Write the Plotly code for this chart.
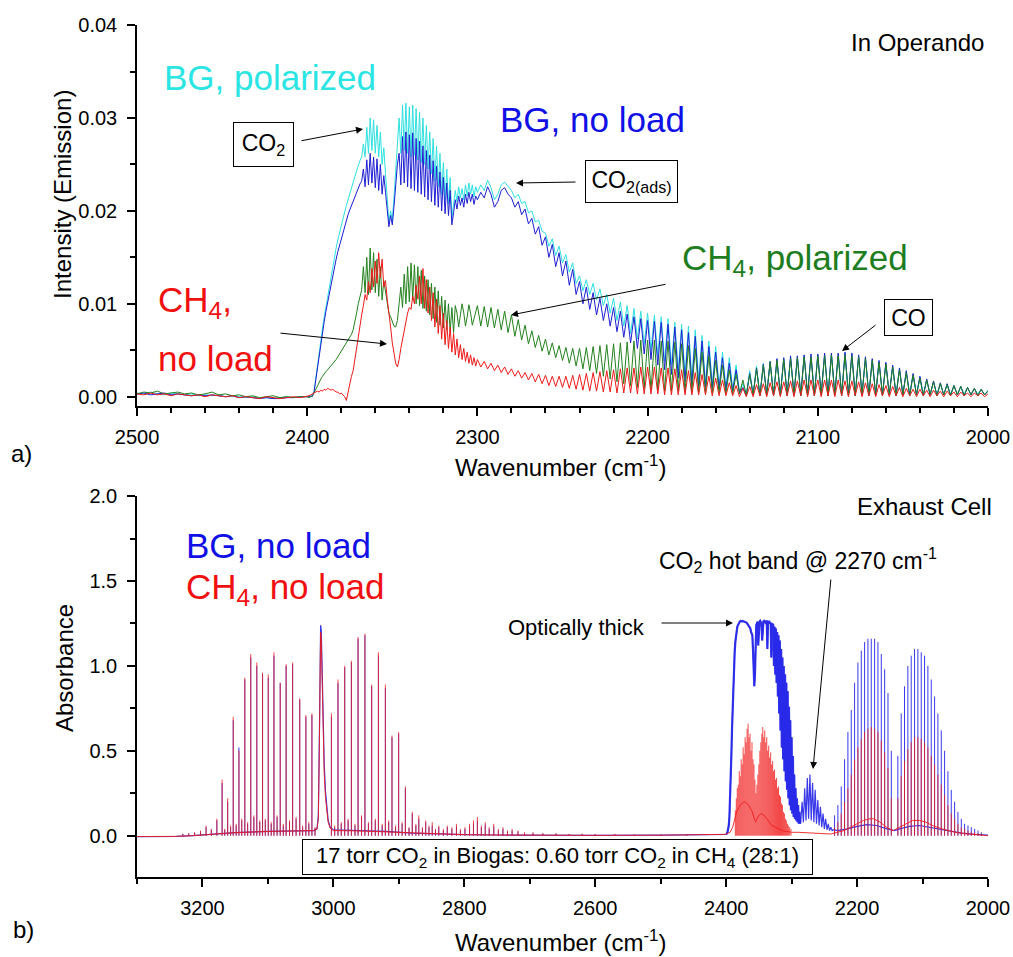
import numpy as np
import plotly.graph_objects as go

W, H = 1013, 957
FONT = "Liberation Sans, Arial, sans-serif"

# ================= Panel a) In Operando emission =================
# wavenumber sampling (cm^-1)
wn_a0 = np.arange(2500, 2403, -4)   # 25
wn_a1 = np.arange(2400, 2300, -1)   # 100
wn_a2 = np.arange(2300, 1999, -2)   # 151

# intensities in units of 1e-4
bg_pol_0 = [4,3,5,3,2,4,3,2,3,1, 2,1,2,0,1,0,-1,0,-2,-1, -2,-1,0,-1,0]
bg_pol_1 = [
 0,-1,0,1,5,20,35,48,62,74,
 86,97,108,119,130,141,151,160,169,177,
 185,192,199,206,212,219,225,231,237,243,
 249,254,258,272,258,290,262,300,265,298,
 262,292,258,285,250,268,240,215,188,200,
 190,215,245,275,300,262,314,265,316,262,
 312,258,314,260,310,255,306,252,300,250,
 292,245,285,240,278,232,270,226,262,218,
 252,212,245,208,236,192,205,222,210,226,
 214,224,212,228,216,230,218,228,215,226]
bg_pol_2 = [
 220,228,222,233,225,212,218,228,231,226,
 222,214,218,208,210,198,200,188,190,178,
 176,162,170,152,162,144,153,134,144,122,
 130,114,126,110,122,104,116,98,110,90,
 106,82,102,76,98,68,95,62,92,56,
 90,50,88,44,86,38,84,34,80,28,
 78,24,76,20,72,18,66,15,60,13,
 54,11,48,10,42,8,34,5,14,2,
 28,3,33,2,36,3,38,3,40,2,
 41,3,42,2,43,3,44,2,44,3,
 45,2,45,3,46,2,45,3,47,2,
 46,3,44,2,42,3,40,2,38,3,
 36,2,33,3,30,2,27,3,24,2,
 21,3,18,2,16,3,14,2,13,3,
 12,2,11,3,10,2,9,3,8,2,
 7]

bg_nl_0 = [3,4,2,3,4,2,3,2,1,2, 1,2,1,0,1,-1,0,-1,-2,-1, -2,-2,-1,-1,0]
bg_nl_1 = [
 0,0,1,0,5,18,33,46,58,70,
 81,92,102,112,122,131,140,148,156,163,
 170,177,184,190,196,201,206,211,216,220,
 224,229,232,245,226,255,228,262,230,258,
 225,256,222,250,218,238,220,200,183,195,
 185,205,230,250,262,228,280,230,285,226,
 282,224,284,222,278,220,275,218,270,215,
 265,212,260,210,254,206,248,204,242,200,
 236,197,230,195,222,185,198,212,202,216,
 206,214,204,218,208,220,210,218,207,216]
bg_nl_2 = [
 212,220,214,226,218,204,210,222,225,218,
 214,204,210,196,202,186,192,175,183,163,
 172,150,164,140,155,130,146,120,137,110,
 124,100,118,94,112,88,106,82,100,76,
 96,70,92,64,89,58,86,52,84,46,
 82,40,81,34,80,29,78,24,75,20,
 72,16,69,13,65,11,60,10,54,9,
 48,8,42,7,36,6,29,4,10,1,
 25,2,31,1,35,2,38,1,41,2,
 42,1,44,2,44,1,45,2,46,1,
 46,2,47,1,47,2,47,1,48,2,
 47,1,45,2,43,1,41,2,39,1,
 37,2,34,1,31,2,28,1,25,2,
 22,1,19,2,17,1,15,2,14,1,
 12,2,11,1,10,2,9,1,8,2,
 6]

ch4_pol_0 = [3,5,4,6,3,4,5,3,4,2, 3,5,2,3,1,2,0,1,-1,0, 1,-1,0,-1,0]
ch4_pol_1 = [
 0,-1,0,1,4,8,12,15,19,22,
 25,27,29,31,33,35,37,40,43,46,
 49,53,56,58,61,64,67,72,80,90,
 100,108,115,140,112,150,110,160,115,155,
 112,148,108,140,104,125,112,98,90,86,
 80,76,75,82,100,118,96,132,100,140,
 102,144,104,142,100,140,98,136,95,130,
 92,126,88,122,84,118,80,114,77,108,
 74,104,72,100,70,96,69,98,90,75,
 88,100,90,76,86,99,90,77,84,92]
ch4_pol_2 = [
 98,76,97,75,96,74,94,72,92,69,
 88,65,83,61,77,57,71,53,66,49,
 62,45,58,42,55,39,53,36,52,33,
 52,30,53,28,54,25,55,22,56,19,
 57,16,58,14,59,12,60,10,61,9,
 61,7,61,7,60,6,60,6,59,6,
 57,5,55,5,52,5,48,4,44,4,
 39,4,34,3,29,3,24,3,18,2,
 24,2,30,1,34,2,37,1,39,2,
 40,1,41,2,42,1,43,2,43,1,
 44,2,44,1,45,2,44,1,45,2,
 44,1,43,2,41,1,39,2,37,1,
 35,2,32,1,29,2,26,1,23,2,
 20,1,18,2,16,1,14,2,13,1,
 12,2,11,1,10,2,9,1,8,2,
 6]

ch4_nl_0 = [3,2,4,2,3,1,3,2,1,2, 0,2,1,0,1,-1,0,-1,-2,0, -1,-2,-1,0,-1]
ch4_nl_1 = [
 0,1,2,3,4,5,6,5,7,6,
 8,7,9,8,7,8,6,5,5,3,
 4,2,0,-4,5,15,22,28,40,55,
 68,80,88,98,110,104,124,112,138,118,
 146,122,155,128,148,118,125,105,92,75,
 58,45,36,32,40,52,62,74,82,90,
 96,94,108,100,120,105,130,100,138,95,
 126,90,118,82,112,75,105,68,98,62,
 90,56,82,52,75,48,68,45,62,42,
 56,40,52,38,48,36,45,34,42,33]
ch4_nl_2 = [
 40,32,38,30,36,28,34,26,32,24,
 30,22,28,20,26,18,25,16,24,14,
 23,12,22,11,22,10,22,9,23,8,
 24,7,25,6,26,6,27,5,28,5,
 29,4,30,4,31,4,31,3,32,3,
 32,3,32,3,31,2,31,2,30,2,
 29,2,28,2,26,2,24,2,22,1,
 20,1,18,1,15,1,12,0,9,0,
 11,0,13,1,14,0,15,1,16,0,
 16,1,17,0,17,1,18,0,18,1,
 18,0,18,1,18,0,18,1,17,0,
 17,1,16,0,15,1,14,0,13,1,
 12,0,11,1,10,0,9,1,8,0,
 8,1,7,0,7,1,6,0,6,1,
 5,0,5,1,4,0,4,1,4,0,
 3]

for s in (bg_pol_0, bg_nl_0, ch4_pol_0, ch4_nl_0):
    assert len(s) == len(wn_a0)
for s in (bg_pol_1, bg_nl_1, ch4_pol_1, ch4_nl_1):
    assert len(s) == len(wn_a1), len(s)
for s in (bg_pol_2, bg_nl_2, ch4_pol_2, ch4_nl_2):
    assert len(s) == len(wn_a2), len(s)

wn_a = np.concatenate([wn_a0, wn_a1, wn_a2])
def top_series(a, b, c):
    return np.array(a + b + c, dtype=float) * 1e-4

# ================= Panel b) Exhaust cell absorbance =================
# broad continuum (baseline + CH4 Q-branch)
bg_cont_wn = [3300, 3270, 3240, 3215, 3195, 3175, 3150, 3100, 3050, 3030, 3025, 3023,
              3021.5, 3020.5, 3019.5, 3018.5, 3017.5, 3016.5, 3015.5, 3014, 3012, 3010,
              3008, 3005, 3000, 2960, 2920, 2880, 2850, 2800, 2750, 2700, 2600, 2500,
              2420, 2401]
bg_cont_a = [-0.005, -0.006, -0.004, 0.0, 0.005, 0.01, 0.018, 0.025, 0.028, 0.03, 0.04, 0.12,
             0.55, 1.1, 1.24, 1.21, 1.05, 0.8, 0.6, 0.42, 0.26, 0.15,
             0.09, 0.05, 0.035, 0.03, 0.025, 0.015, 0.01, 0.006, 0.004, 0.002, 0.002, 0.003,
             0.004, 0.008]
ch4_cont_a = [-0.005, -0.006, -0.004, 0.0, 0.005, 0.01, 0.018, 0.025, 0.028, 0.03, 0.04, 0.1,
              0.5, 1.05, 1.2, 1.16, 0.98, 0.72, 0.52, 0.36, 0.22, 0.13,
              0.08, 0.045, 0.03, 0.028, 0.022, 0.014, 0.01, 0.006, 0.004, 0.002, 0.002, 0.003,
              0.004, 0.008]

# BG: saturated CO2 band (1 cm^-1 sampling, 2400 -> 2287)
bg_band_wn = np.arange(2400, 2286, -1)
bg_band_a = [
 0.01,0.012,0.02,0.035,0.06,0.11,0.2,0.32,0.48,0.63,0.78,0.9,1.0,1.08,1.14,1.18,1.21,1.23,1.24,1.25,
 1.26,1.262,1.265,1.26,1.262,1.265,1.26,1.262,1.26,1.258,
 1.26,1.255,1.25,1.245,1.24,1.235,1.23,1.22,1.2,1.19,
 1.18,1.1,0.95,0.88,0.95,1.15,1.24,1.25,1.26,1.12,
 1.25,1.26,1.265,1.26,1.25,1.15,1.26,1.262,1.265,1.26,
 1.255,1.262,1.265,1.1,1.26,1.258,1.26,1.25,1.255,1.05,
 1.25,1.245,1.24,1.0,1.23,0.95,1.22,0.9,1.2,0.82,
 1.18,0.72,1.15,0.62,1.1,0.52,1.05,0.45,1.0,0.38,
 0.95,0.32,0.9,0.27,0.85,0.22,0.76,0.18,0.68,0.15,
 0.58,0.13,0.47,0.11,0.36,0.1,0.28,0.09,0.22,0.08,
 0.18,0.07,0.14,0.07]
assert len(bg_band_a) == len(bg_band_wn), len(bg_band_a)
# BG: CO2 hot band near 2270 cm^-1
bg_hot_wn = np.arange(2286, 2235, -2)
bg_hot_a = [0.08,0.2,0.08,0.28,0.09,0.34,0.1,0.36,0.09,0.31,0.08,0.27,0.07,0.21,0.06,0.17,
            0.05,0.13,0.04,0.1,0.035,0.07,0.03,0.05,0.03,0.035]
assert len(bg_hot_a) == len(bg_hot_wn)
# BG: pedestal under CO lines
bg_ped_wn = [2230, 2215, 2200, 2185, 2170, 2158, 2148, 2143, 2135, 2120, 2105, 2090, 2075, 2060, 2040, 2020, 2000]
bg_ped_a = [0.03, 0.04, 0.055, 0.065, 0.06, 0.045, 0.035, 0.03, 0.04, 0.055, 0.06, 0.05, 0.04, 0.03, 0.015, 0.008, 0.004]

# CH4: pedestal under CO2 band and CO lines
ch4_ped_wn = [2400, 2394, 2390, 2387, 2384, 2380, 2376, 2372, 2368, 2364, 2360, 2357, 2355, 2353, 2350,
              2346, 2342, 2338, 2334, 2330, 2325, 2320, 2315, 2308, 2300, 2290, 2270, 2240, 2220, 2200,
              2190, 2180, 2175, 2165, 2155, 2145, 2135, 2125, 2115, 2105, 2095, 2085, 2070, 2050, 2030, 2000]
ch4_ped_a = [0.01, 0.02, 0.05, 0.1, 0.14, 0.17, 0.19, 0.2, 0.19, 0.17, 0.14, 0.1, 0.08, 0.1, 0.12,
             0.13, 0.12, 0.1, 0.08, 0.06, 0.05, 0.04, 0.03, 0.025, 0.02, 0.02, 0.015, 0.01, 0.03, 0.07,
             0.09, 0.1, 0.1, 0.08, 0.05, 0.03, 0.05, 0.07, 0.09, 0.09, 0.08, 0.06, 0.04, 0.02, 0.01, 0.0]

# CH4 rotational lines (R, P branches)
ch4_line_wn = [3230, 3221, 3212, 3203, 3194.5, 3186.5, 3178, 3170, 3161.5, 3153,
               3144.3, 3135.3, 3126.2, 3117, 3108.2, 3099.5, 3090.8, 3081.2, 3072.2, 3062.3,
               3051.4, 3042, 3032.8, 3003, 2993, 2982.7, 2972.5, 2962.3, 2951.8, 2941.5,
               2931.2, 2920.6, 2910.5, 2900.3, 2890, 2879.5, 2869.5, 2859, 2849, 2839]
ch4_line_red = [0.012, 0.015, 0.02, 0.03, 0.06, 0.04, 0.10, 0.33, 0.22, 0.70,
                0.50, 0.93, 1.07, 1.02, 0.96, 0.95, 1.08, 0.90, 1.01, 1.02,
                0.81, 0.71, 0.72, 0.72, 0.92, 1.00, 1.03, 1.17, 1.19, 0.89,
                1.08, 0.89, 0.59, 0.61, 0.29, 0.14, 0.12, 0.09, 0.08, 0.06]
ch4_line_blue = [0.01, 0.012, 0.018, 0.025, 0.05, 0.035, 0.09, 0.31, 0.2, 0.68,
                 0.52, 0.92, 1.05, 1.0, 0.95, 0.93, 1.06, 0.9, 1.0, 1.01,
                 0.8, 0.7, 0.71, 0.7, 0.9, 0.99, 1.02, 1.16, 1.18, 0.88,
                 1.06, 0.87, 0.58, 0.6, 0.28, 0.13, 0.1, 0.08, 0.06, 0.05]
ch4_weak_wn = [3166, 3157, 3148.5, 3140, 3131, 3121.5, 3112.5, 3104, 3095, 3086, 3076.5, 3067,
               3057, 3047, 3037.5, 3028, 2998, 2988, 2977.5, 2967, 2957, 2946.5, 2936, 2925.5,
               2915.5, 2905, 2895, 2884.5, 2874, 2864, 2854, 2844]
ch4_weak_red = [0.04, 0.06, 0.07, 0.1, 0.08, 0.12, 0.09, 0.1, 0.08, 0.12, 0.07, 0.09,
                0.11, 0.06, 0.08, 0.05, 0.06, 0.08, 0.1, 0.07, 0.12, 0.08, 0.1, 0.07,
                0.09, 0.06, 0.08, 0.05, 0.07, 0.05, 0.06, 0.04]
ch4_weak_blue = [0.035, 0.05, 0.06, 0.09, 0.07, 0.11, 0.08, 0.09, 0.07, 0.11, 0.06, 0.08,
                 0.1, 0.05, 0.07, 0.045, 0.05, 0.07, 0.09, 0.06, 0.11, 0.07, 0.09, 0.06,
                 0.08, 0.05, 0.07, 0.045, 0.06, 0.045, 0.05, 0.035]
tail_wn = [2832, 2826, 2819, 2812, 2806, 2799, 2792, 2786, 2780, 2774, 2768, 2762, 2755, 2748,
           2741, 2734, 2727, 2718, 2708, 2695, 2680, 2660, 2640, 2620, 2600, 2570, 2540, 2500, 2460]
tail_red = [0.04, 0.06, 0.05, 0.07, 0.04, 0.05, 0.07, 0.09, 0.11, 0.06, 0.08, 0.05, 0.07, 0.04,
            0.05, 0.03, 0.04, 0.03, 0.02, 0.02, 0.015, 0.015, 0.01, 0.012, 0.01, 0.01, 0.008, 0.008, 0.006]
tail_blue = [0.03, 0.05, 0.04, 0.055, 0.03, 0.04, 0.055, 0.07, 0.09, 0.05, 0.065, 0.04, 0.055, 0.03,
             0.04, 0.025, 0.03, 0.025, 0.015, 0.015, 0.012, 0.012, 0.008, 0.01, 0.008, 0.008, 0.006, 0.006, 0.005]

# CO2 band lines for CH4 sample
co2_wn = [2386, 2384.5, 2383, 2381.5, 2380, 2378.5, 2377, 2375.5, 2374, 2372.5,
          2371, 2369.5, 2368, 2366.5, 2365, 2363.5, 2362, 2360.5, 2359, 2357.5,
          2356, 2354.5, 2353, 2351.5, 2350, 2348.5, 2347, 2345.5, 2344, 2342.5,
          2341, 2339.5, 2338, 2336.5, 2335, 2333.5, 2332, 2330.5, 2329, 2327.5,
          2326, 2324.5, 2323, 2321.5, 2320, 2318.5, 2317, 2315.5, 2314, 2312.5,
          2311, 2309.5, 2308, 2306.5, 2305, 2303, 2301]
co2_ch4 = [0.15, 0.22, 0.28, 0.3, 0.38, 0.35, 0.45, 0.42, 0.52, 0.48,
           0.58, 0.55, 0.63, 0.66, 0.58, 0.6, 0.5, 0.55, 0.45, 0.42,
           0.33, 0.25, 0.3, 0.36, 0.42, 0.5, 0.55, 0.6, 0.64, 0.58,
           0.62, 0.55, 0.58, 0.5, 0.53, 0.46, 0.49, 0.42, 0.44, 0.38,
           0.39, 0.33, 0.34, 0.28, 0.29, 0.24, 0.23, 0.19, 0.18, 0.14,
           0.13, 0.1, 0.09, 0.07, 0.06, 0.05, 0.04]

# CO rotational lines as resolved in the picture (R branch, then P branch)
co_wn = [2234.4, 2229.3, 2224.2, 2219.1, 2214.0, 2208.9, 2203.8, 2198.7, 2193.6, 2188.5,
         2183.4, 2178.3, 2173.2, 2168.1, 2163.0, 2157.9, 2152.8, 2147.7,
         2137.7, 2132.6, 2127.5, 2122.4, 2117.3, 2112.2, 2107.1, 2102.0, 2096.9, 2091.8,
         2086.7, 2081.6, 2076.5, 2071.4, 2066.3, 2061.2, 2056.1, 2051.0, 2045.9, 2040.8,
         2035.7, 2030.6, 2025.5, 2020.4, 2015.3, 2010.2]
co_bg = [0.12, 0.18, 0.29, 0.45, 0.61, 0.74, 0.9, 1.02, 1.09, 1.14,
         1.16, 1.16, 1.16, 1.14, 1.07, 0.98, 0.84, 0.5,
         0.47, 0.72, 0.88, 1.0, 1.06, 1.1, 1.1, 1.08, 1.06, 1.0,
         0.92, 0.82, 0.72, 0.62, 0.5, 0.38, 0.27, 0.2, 0.14, 0.1,
         0.07, 0.06, 0.05, 0.04, 0.03, 0.02]
co_ch4 = [0.05, 0.08, 0.13, 0.2, 0.28, 0.36, 0.45, 0.52, 0.57, 0.61,
          0.63, 0.64, 0.63, 0.61, 0.56, 0.49, 0.4, 0.22,
          0.22, 0.35, 0.44, 0.51, 0.55, 0.58, 0.58, 0.57, 0.55, 0.52,
          0.47, 0.42, 0.36, 0.3, 0.24, 0.18, 0.13, 0.1, 0.07, 0.05,
          0.04, 0.03, 0.025, 0.02, 0.015, 0.01]

for a, b in [(bg_cont_wn, bg_cont_a), (bg_cont_wn, ch4_cont_a), (bg_ped_wn, bg_ped_a),
             (ch4_ped_wn, ch4_ped_a), (ch4_line_wn, ch4_line_red), (ch4_line_wn, ch4_line_blue),
             (ch4_weak_wn, ch4_weak_red), (ch4_weak_wn, ch4_weak_blue), (tail_wn, tail_red),
             (tail_wn, tail_blue), (co2_wn, co2_ch4), (co_wn, co_bg), (co_wn, co_ch4)]:
    assert len(a) == len(b), (len(a), len(b))

# ================= colours =================
C_CYAN = "#2EE0E0"
C_BLUE = "#1E1ED2"
C_GREEN = "#23821E"
C_RED = "#EE1A1A"
T_CYAN = "#2BE4E4"
T_BLUE = "#1010E6"
T_GREEN = "#1E7D1E"
T_RED = "#F01010"
B_BLUE = "rgba(40,40,232,0.92)"
B_RED = "rgba(240,28,28,0.9)"

fig = go.Figure()

# ---- panel a traces
for vals, col in [((bg_pol_0, bg_pol_1, bg_pol_2), C_CYAN),
                  ((bg_nl_0, bg_nl_1, bg_nl_2), C_BLUE),
                  ((ch4_pol_0, ch4_pol_1, ch4_pol_2), C_GREEN),
                  ((ch4_nl_0, ch4_nl_1, ch4_nl_2), C_RED)]:
    fig.add_trace(go.Scatter(x=wn_a, y=top_series(*vals), mode="lines",
                             line=dict(color=col, width=1), xaxis="x", yaxis="y",
                             hoverinfo="skip"))

# ---- panel b traces
def stick_xy(pos_lists, h_lists):
    xs, ys = [], []
    for pos, hts in zip(pos_lists, h_lists):
        for p, h in zip(pos, hts):
            xs += [p, p, None]
            ys += [0.0, h, None]
    return xs, ys

bg_x = list(bg_cont_wn) + list(bg_band_wn) + list(bg_hot_wn) + list(bg_ped_wn)
bg_y = list(bg_cont_a) + list(bg_band_a) + list(bg_hot_a) + list(bg_ped_a)
fig.add_trace(go.Scatter(x=bg_x, y=bg_y, mode="lines", line=dict(color=B_BLUE, width=1.2),
                         xaxis="x2", yaxis="y2", hoverinfo="skip"))
# the saturated CO2 band is drawn with a heavier stroke, as in the original
fig.add_trace(go.Scatter(x=bg_band_wn, y=bg_band_a, mode="lines",
                         line=dict(color=B_BLUE, width=2.2),
                         xaxis="x2", yaxis="y2", hoverinfo="skip"))
sx, sy = stick_xy([ch4_line_wn, ch4_weak_wn, tail_wn, co_wn],
                  [ch4_line_blue, ch4_weak_blue, tail_blue, co_bg])
fig.add_trace(go.Scatter(x=sx, y=sy, mode="lines", line=dict(color=B_BLUE, width=1),
                         xaxis="x2", yaxis="y2", hoverinfo="skip"))

ch4_x = list(bg_cont_wn) + list(ch4_ped_wn)
ch4_y = list(ch4_cont_a) + list(ch4_ped_a)
fig.add_trace(go.Scatter(x=ch4_x, y=ch4_y, mode="lines", line=dict(color=B_RED, width=1),
                         xaxis="x2", yaxis="y2", hoverinfo="skip"))
sx, sy = stick_xy([ch4_line_wn, ch4_weak_wn, tail_wn, co2_wn, co_wn],
                  [ch4_line_red, ch4_weak_red, tail_red, co2_ch4, co_ch4])
fig.add_trace(go.Scatter(x=sx, y=sy, mode="lines", line=dict(color=B_RED, width=0.9),
                         xaxis="x2", yaxis="y2", hoverinfo="skip"))

# ================= annotations =================
def px(x):
    return x / W

def py(y):
    return 1 - y / H

ann = []

def label(text, x, y, size, color="black", xanchor="left", angle=0):
    ann.append(dict(text=text, x=px(x), y=py(y), xref="paper", yref="paper",
                    xanchor=xanchor, yanchor="middle", showarrow=False, textangle=angle,
                    font=dict(family=FONT, size=size, color=color)))

def box(text, x, y, w, h, size):
    ann.append(dict(text=text, x=px(x), y=py(y), xref="paper", yref="paper",
                    xanchor="center", yanchor="middle", showarrow=False,
                    font=dict(family=FONT, size=size, color="black"),
                    bordercolor="black", borderwidth=1, borderpad=0, bgcolor="white",
                    width=w, height=h, align="center", valign="middle"))

def arrow(hx, hy, tx, ty):
    ann.append(dict(text="", x=px(hx), y=py(hy), xref="paper", yref="paper",
                    ax=tx - hx, ay=ty - hy, axref="pixel", ayref="pixel",
                    showarrow=True, arrowhead=2, arrowsize=1.4, arrowwidth=1,
                    arrowcolor="black", standoff=0, startstandoff=0))

# panel a
label("Intensity (Emission)", 62, 195, 24, angle=-90, xanchor="center")
label("Wavenumber (cm<sup>-1</sup>)", 560, 466, 24, xanchor="center")
label("a)", 21, 453, 24, xanchor="center")
label("In Operando", 986, 43, 24, xanchor="right")
label("BG, polarized", 162, 78, 35, T_CYAN)
label("BG, no load", 498, 120, 35, T_BLUE)
label("CH<sub>4</sub>, polarized", 680, 260, 35, T_GREEN)
label("CH<sub>4</sub>,", 156, 302, 35, T_RED)
label("no load", 156, 358, 35, T_RED)
box("CO<sub>2</sub>", 263, 144, 59, 43, 23)
box("CO<sub>2(ads)</sub>", 631, 181, 91, 41, 23)
box("CO", 908, 318, 47, 35, 23)
arrow(363, 129, 300, 141)
arrow(516, 183, 577, 182)
arrow(842, 351, 877, 324)
arrow(387, 344, 279, 333)
arrow(511, 315, 667, 284)

# panel b
label("Absorbance", 64, 668, 24, angle=-90, xanchor="center")
label("Wavenumber (cm<sup>-1</sup>)", 560, 941, 24, xanchor="center")
label("b)", 23, 929, 24, xanchor="center")
label("Exhaust Cell", 994, 506, 24, xanchor="right")
label("BG, no load", 184, 545, 35, T_BLUE)
label("CH<sub>4</sub>, no load", 184, 589, 35, T_RED)
label("CO<sub>2</sub> hot band @ 2270 cm<sup>-1</sup>", 657, 560, 23)
label("Optically thick", 506, 627, 22)
box("17 torr CO<sub>2</sub> in Biogas: 0.60 torr CO<sub>2</sub> in CH<sub>4</sub> (28:1)",
    557, 857, 509, 34, 22)
arrow(733, 623, 660, 623)
arrow(813, 769, 831, 578)

# ================= axes =================
def axis(**kw):
    base = dict(showline=True, linecolor="black", linewidth=1.5, ticks="outside",
                ticklen=8, tickwidth=1.5, tickcolor="black", showgrid=False,
                zeroline=False, mirror=False, automargin=False,
                tickfont=dict(family=FONT, size=20, color="black"))
    base.update(kw)
    return base

def minor(d):
    return dict(ticks="outside", ticklen=5, tickwidth=1.5, tickcolor="black",
                dtick=d, showgrid=False)

fig.update_layout(
    width=W, height=H, margin=dict(l=0, r=0, t=0, b=0, autoexpand=False),
    paper_bgcolor="white", plot_bgcolor="white", showlegend=False,
    annotations=ann,
    xaxis=axis(domain=[137 / W, 988 / W], anchor="y", range=[2500.01, 1999.99],
               tick0=2000, dtick=100, tickformat="d", minor=minor(20),
               ticklabelstandoff=4),
    yaxis=axis(domain=[1 - 406 / H, 1 - 25 / H], anchor="x", range=[-0.001, 0.04001],
               tick0=0, dtick=0.01, tickformat=".2f", minor=minor(0.005),
               ticklabelstandoff=6),
    xaxis2=axis(domain=[137 / W, 988 / W], anchor="y2", range=[3300.01, 1999.99],
                tick0=2000, dtick=200, tickformat="d", minor=minor(100),
                ticklabelstandoff=4),
    yaxis2=axis(domain=[1 - 877.3 / H, 1 - 496 / H], anchor="x2", range=[-0.245, 2.0005],
                tick0=0, dtick=0.5, tickformat=".1f", minor=minor(0.25),
                ticklabelstandoff=6),
)

fig.write_html("out.html")
